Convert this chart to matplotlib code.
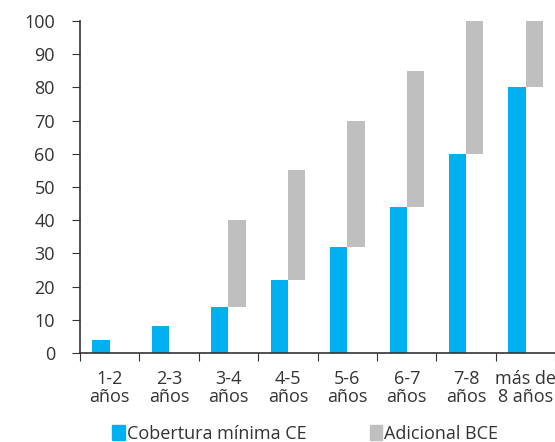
import matplotlib.pyplot as plt
import numpy as np
from matplotlib.patches import Patch

plt.rcParams['font.family'] = ['Open Sans', 'DejaVu Sans']

categorias = ['1-2\naños', '2-3\naños', '3-4\naños', '4-5\naños',
              '5-6\naños', '6-7\naños', '7-8\naños', 'más de\n8 años']
cobertura_ce = [4, 8, 14, 22, 32, 44, 60, 80]
adicional_bce = [0, 0, 26, 33, 38, 41, 40, 20]

azul = '#00B0F0'
gris = '#BFBFBF'
texto = '#333333'

fig = plt.figure(figsize=(5.55, 4.42), dpi=100)
ax = fig.add_axes([0.144, 0.2014, 0.862, 0.7511])

x = np.arange(len(categorias)) + 0.5
w = 0.29
# blue to the left of the centre, grey floating to the right of it
ax.bar(x, cobertura_ce, width=-w, align='edge', color=azul)
ax.bar(x, adicional_bce, width=w, bottom=cobertura_ce, align='edge', color=gris)

ax.set_xlim(0, 8.05)
ax.set_ylim(0, 100)
ax.set_yticks(np.arange(0, 101, 10))
ax.set_xticks(np.arange(0, 9), labels=[''] * 9)
ax.set_xticks(x, labels=categorias, minor=True)
ax.tick_params(axis='x', which='minor', length=0, pad=12)
ax.tick_params(axis='x', which='major', length=6, direction='out', color=texto)
ax.tick_params(axis='y', length=6, direction='out', color=texto, pad=12)
ax.tick_params(which='both', labelsize=13, labelcolor=texto)
for lbl in ax.get_xticklabels(minor=True):
    lbl.set_linespacing(1.05)

for s in ['top', 'right']:
    ax.spines[s].set_visible(False)
for s in ['left', 'bottom']:
    ax.spines[s].set_color(texto)
    ax.spines[s].set_linewidth(1.2)

handles = [Patch(color=azul), Patch(color=gris)]
fig.legend(handles, ['Cobertura mínima CE', 'Adicional BCE'], loc='center',
           bbox_to_anchor=(0.55, 0.018), ncol=2, frameon=False, fontsize=13,
           handlelength=0.7, handleheight=0.9, handletextpad=0.1,
           columnspacing=3.5, labelcolor=texto)

fig.savefig('out.png', dpi=100)
